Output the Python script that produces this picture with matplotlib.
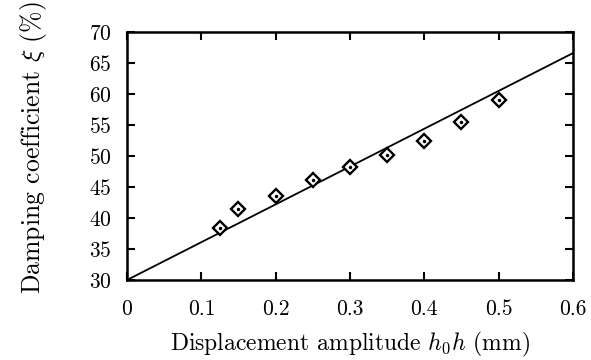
import matplotlib
matplotlib.use("Agg")
import matplotlib.pyplot as plt

# measured points
amplitude = [0.125, 0.15, 0.20, 0.25, 0.30, 0.35, 0.40, 0.45, 0.50]
damping = [38.4, 41.5, 43.6, 46.2, 48.2, 50.2, 52.5, 55.5, 59.0]

# fitted line endpoints
fit_x = [0.0, 0.6]
fit_y = [30.0, 66.6]

xticks = [0, 0.1, 0.2, 0.3, 0.4, 0.5, 0.6]
xticklabels = ["0", "0.1", "0.2", "0.3", "0.4", "0.5", "0.6"]
yticks = [30, 35, 40, 45, 50, 55, 60, 65, 70]

plt.rcParams["font.family"] = "serif"
plt.rcParams["font.serif"] = ["cmr10", "DejaVu Serif"]
plt.rcParams["mathtext.fontset"] = "cm"
plt.rcParams["axes.formatter.use_mathtext"] = True

fig = plt.figure(figsize=(5.91, 3.6), dpi=100)
ax = fig.add_axes([0.2149, 0.2222, 0.7546, 0.6889])

ax.plot(fit_x, fit_y, color="black", lw=1.3, clip_on=False)
ax.plot(amplitude, damping, linestyle="none", marker="D", ms=7.5, mfc="white",
        mec="black", mew=1.7, clip_on=False)
ax.plot(amplitude, damping, linestyle="none", marker="o", ms=1.5, color="black")

ax.set_xlim(0, 0.6)
ax.set_ylim(30, 70)
ax.set_xticks(xticks)
ax.set_xticklabels(xticklabels)
ax.set_yticks(yticks)

for s in ax.spines.values():
    s.set_linewidth(1.8)
ax.tick_params(direction="in", length=6, width=1.5, top=True, right=True,
               labelsize=15.5)
ax.tick_params(axis="x", pad=14)
ax.tick_params(axis="y", pad=11)

ax.set_xlabel(r"Displacement amplitude $h_0h$ (mm)", fontsize=17, labelpad=8)
ax.set_ylabel(r"Damping coefficient $\xi$ (%)", fontsize=18.5)
ax.yaxis.set_label_coords(-0.175, 0.535)

fig.savefig("out.png", dpi=100)
